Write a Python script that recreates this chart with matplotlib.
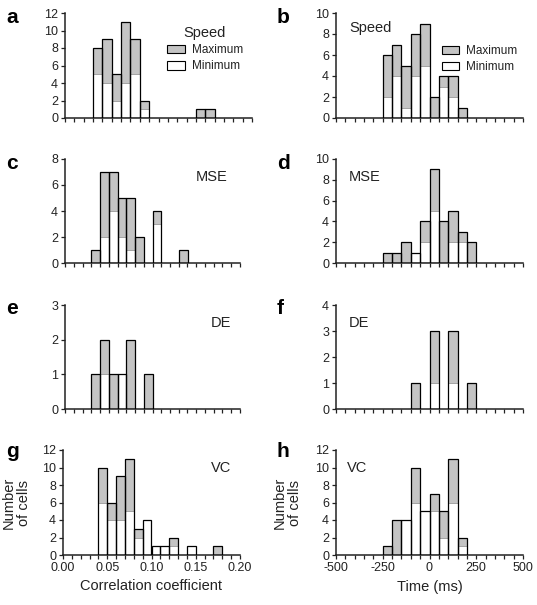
import matplotlib
matplotlib.use("Agg")
import matplotlib.pyplot as plt
import numpy as np
from matplotlib.patches import Patch
from matplotlib.ticker import MultipleLocator, FormatStrFormatter

plt.rcParams['font.family'] = ['Liberation Sans', 'DejaVu Sans']
plt.rcParams['axes.unicode_minus'] = False

# bin edges (left edges), 20 bins each
corr_edges = [round(0.01 * i, 2) for i in range(20)]
time_edges = [-500 + 50 * i for i in range(20)]

# counts per bin: minimum (white) and maximum (gray)
a_min = [0, 0, 0, 5, 4, 2, 4, 5, 1, 0, 0, 0, 0, 0, 0, 0, 0, 0, 0, 0]
a_max = [0, 0, 0, 3, 5, 3, 7, 4, 1, 0, 0, 0, 0, 0, 1, 1, 0, 0, 0, 0]
b_min = [0, 0, 0, 0, 0, 2, 4, 1, 4, 5, 0, 3, 2, 0, 0, 0, 0, 0, 0, 0]
b_max = [0, 0, 0, 0, 0, 4, 3, 4, 4, 4, 2, 1, 2, 1, 0, 0, 0, 0, 0, 0]
c_min = [0, 0, 0, 0, 2, 4, 2, 1, 0, 0, 3, 0, 0, 0, 0, 0, 0, 0, 0, 0]
c_max = [0, 0, 0, 1, 5, 3, 3, 4, 2, 0, 1, 0, 0, 1, 0, 0, 0, 0, 0, 0]
d_min = [0, 0, 0, 0, 0, 0, 0, 0, 1, 2, 5, 0, 2, 2, 0, 0, 0, 0, 0, 0]
d_max = [0, 0, 0, 0, 0, 1, 1, 2, 0, 2, 4, 4, 3, 1, 2, 0, 0, 0, 0, 0]
e_min = [0, 0, 0, 0, 1, 0, 1, 0, 0, 0, 0, 0, 0, 0, 0, 0, 0, 0, 0, 0]
e_max = [0, 0, 0, 1, 1, 1, 0, 2, 0, 1, 0, 0, 0, 0, 0, 0, 0, 0, 0, 0]
f_min = [0, 0, 0, 0, 0, 0, 0, 0, 0, 0, 1, 0, 1, 0, 0, 0, 0, 0, 0, 0]
f_max = [0, 0, 0, 0, 0, 0, 0, 0, 1, 0, 2, 0, 2, 0, 1, 0, 0, 0, 0, 0]
g_min = [0, 0, 0, 0, 6, 4, 4, 5, 2, 4, 1, 1, 1, 0, 1, 0, 0, 0, 0, 0]
g_max = [0, 0, 0, 0, 4, 2, 5, 6, 1, 0, 0, 0, 1, 0, 0, 0, 0, 1, 0, 0]
h_min = [0, 0, 0, 0, 0, 0, 0, 4, 6, 5, 5, 2, 6, 1, 0, 0, 0, 0, 0, 0]
h_max = [0, 0, 0, 0, 0, 1, 4, 0, 4, 0, 2, 3, 5, 1, 0, 0, 0, 0, 0, 0]

GRAY = '#c4c4c4'
TXT = '#222222'

fig = plt.figure(figsize=(5.37, 6.05), dpi=100)
W, H = 537.0, 605.0


def add_ax(x0, x1, top, bottom):
    return fig.add_axes([x0 / W, (H - bottom) / H, (x1 - x0) / W, (bottom - top) / H])


def draw(ax, edges, mins, maxs, width, ymax, ystep, xlim, xmajor, xminor, labels):
    edges = np.array(edges, dtype=float)
    mins = np.array(mins)
    maxs = np.array(maxs)
    tot = mins + maxs
    ax.bar(edges, mins, width=width, align='edge', color='white', edgecolor='none', zorder=2)
    ax.bar(edges, maxs, bottom=mins, width=width, align='edge', color=GRAY,
           edgecolor='#8a8a8a', linewidth=0.5, zorder=2)
    keep = tot > 0
    ax.bar(edges[keep], tot[keep], width=width, align='edge', facecolor='none',
           edgecolor='black', linewidth=0.9, zorder=3)
    ax.set_xlim(*xlim)
    ax.set_ylim(0, ymax)
    ax.yaxis.set_major_locator(MultipleLocator(ystep))
    ax.xaxis.set_major_locator(MultipleLocator(xmajor))
    ax.xaxis.set_minor_locator(MultipleLocator(xminor))
    for s in ['top', 'right']:
        ax.spines[s].set_visible(False)
    for s in ['left', 'bottom']:
        ax.spines[s].set_linewidth(1.1)
        ax.spines[s].set_color('#222222')
    ax.tick_params(which='both', direction='out', length=3, width=0.9, color='#222222',
                   labelsize=9, labelcolor=TXT, pad=2)
    if not labels:
        ax.tick_params(axis='x', labelbottom=False)


LX0, LX1 = 65, 240
RX0, RX1 = 336, 523
rows = [(13, 118), (159, 263), (305, 409), (450, 555)]

ax_a = add_ax(LX0, 252, *rows[0])
ax_b = add_ax(RX0, RX1, *rows[0])
ax_c = add_ax(LX0, LX1, *rows[1])
ax_d = add_ax(RX0, RX1, *rows[1])
ax_e = add_ax(LX0, LX1, *rows[2])
ax_f = add_ax(RX0, RX1, *rows[2])
ax_g = add_ax(63, LX1, *rows[3])
ax_h = add_ax(RX0, RX1, *rows[3])

draw(ax_a, corr_edges, a_min, a_max, 0.01, 12, 2, (0, 0.2), 0.05, 0.01, False)
draw(ax_b, time_edges, b_min, b_max, 50, 10, 2, (-500, 500), 250, 50, False)
draw(ax_c, corr_edges, c_min, c_max, 0.01, 8, 2, (0, 0.2), 0.05, 0.01, False)
draw(ax_d, time_edges, d_min, d_max, 50, 10, 2, (-500, 500), 250, 50, False)
draw(ax_e, corr_edges, e_min, e_max, 0.01, 3, 1, (0, 0.2), 0.05, 0.01, False)
draw(ax_f, time_edges, f_min, f_max, 50, 4, 1, (-500, 500), 250, 50, False)
draw(ax_g, corr_edges, g_min, g_max, 0.01, 12, 2, (0, 0.2), 0.05, 0.01, True)
draw(ax_h, time_edges, h_min, h_max, 50, 12, 2, (-500, 500), 250, 50, True)

ax_g.xaxis.set_major_formatter(FormatStrFormatter('%.2f'))
ax_g.set_xlabel('Correlation coefficient', fontsize=10.5, color=TXT, labelpad=4)
ax_h.set_xlabel('Time (ms)', fontsize=10.5, color=TXT, labelpad=4)

# legends
handles = [Patch(facecolor=GRAY, edgecolor='black', linewidth=0.8, label='Maximum'),
           Patch(facecolor='white', edgecolor='black', linewidth=0.8, label='Minimum')]
leg = ax_a.legend(handles=handles, title='Speed', loc='upper left', bbox_to_anchor=(0.52, 0.92),
                  frameon=False, fontsize=8.5, title_fontsize=10.5, handlelength=1.5,
                  handleheight=0.75, handletextpad=0.6, labelspacing=0.35, borderaxespad=0)
for t in leg.get_texts():
    t.set_color(TXT)
leg.get_title().set_color(TXT)

leg2 = ax_b.legend(handles=handles, loc='upper left', bbox_to_anchor=(0.54, 0.74),
                   frameon=False, fontsize=8.5, handlelength=1.5,
                   handleheight=0.75, handletextpad=0.6, labelspacing=0.35, borderaxespad=0)
for t in leg2.get_texts():
    t.set_color(TXT)

# panel labels inside axes
ax_b.text(0.07, 0.86, 'Speed', transform=ax_b.transAxes, fontsize=10.5, color=TXT, va='center')
ax_c.text(0.93, 0.83, 'MSE', transform=ax_c.transAxes, fontsize=10.5, color=TXT, va='center', ha='right')
ax_d.text(0.07, 0.83, 'MSE', transform=ax_d.transAxes, fontsize=10.5, color=TXT, va='center')
ax_e.text(0.95, 0.83, 'DE', transform=ax_e.transAxes, fontsize=10.5, color=TXT, va='center', ha='right')
ax_f.text(0.07, 0.83, 'DE', transform=ax_f.transAxes, fontsize=10.5, color=TXT, va='center')
ax_g.text(0.95, 0.83, 'VC', transform=ax_g.transAxes, fontsize=10.5, color=TXT, va='center', ha='right')
ax_h.text(0.06, 0.83, 'VC', transform=ax_h.transAxes, fontsize=10.5, color=TXT, va='center')

# letters
for lab, x, y in [('a', 6, 8), ('b', 277, 8), ('c', 6, 154), ('d', 277, 154),
                  ('e', 6, 299), ('f', 277, 299), ('g', 6, 442), ('h', 277, 442)]:
    fig.text(x / W, (H - y) / H, lab, fontsize=15, fontweight='bold', va='top', ha='left')

for x in (16, 287):
    fig.text(x / W, (H - 503) / H, 'Number\nof cells', rotation=90, fontsize=10.5,
             color=TXT, ha='center', va='center', linespacing=1.1)

fig.savefig('out.png', dpi=100)
